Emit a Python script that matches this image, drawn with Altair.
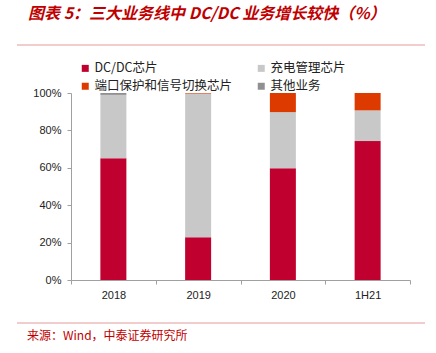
import altair as alt
import pandas as pd

categories = ["2018", "2019", "2020", "1H21"]
series = ["DC/DC芯片", "充电管理芯片", "端口保护和信号切换芯片", "其他业务"]
dcdc = [65.1, 22.8, 59.7, 74.3]
charge = [33.9, 76.9, 30.1, 16.4]
port = [0.0, 0.3, 10.2, 9.3]
other = [1.0, 0.0, 0.0, 0.0]
colors = ["#C0002F", "#C8C8C8", "#DD3A00", "#909090"]

rows = []
for si, (name, vals) in enumerate(zip(series, [dcdc, charge, port, other])):
    for c, v in zip(categories, vals):
        rows.append({"cat": c, "series": name, "value": v / 100.0, "ord": si})
df = pd.DataFrame(rows)

CJK = "Noto Sans CJK SC"
LAT = "Liberation Sans"

bars = alt.Chart(df).mark_bar(width=26).encode(
    x=alt.X("cat:N", sort=categories, title=None,
            scale=alt.Scale(paddingInner=0, paddingOuter=0),
            axis=alt.Axis(tickBand="extent", labelAngle=0, tickSize=4,
                          labelPadding=5, domainColor="#A0A0A0", tickColor="#A0A0A0",
                          labelFont=LAT, labelFontSize=11, labelColor="#222222")),
    y=alt.Y("value:Q", stack="zero", title=None,
            scale=alt.Scale(domain=[0, 1], nice=False),
            axis=alt.Axis(values=[0, 0.2, 0.4, 0.6, 0.8, 1.0], format=".0%", grid=False,
                          tickSize=4, labelPadding=6, domainColor="#A0A0A0", tickColor="#A0A0A0",
                          labelFont=LAT, labelFontSize=11, labelColor="#222222")),
    color=alt.Color("series:N", scale=alt.Scale(domain=series, range=colors),
                    legend=alt.Legend(title=None, orient="none", legendX=8, legendY=-31,
                                      direction="horizontal",
                                      columns=2, columnPadding=22, rowPadding=5,
                                      symbolType="square", symbolSize=49, symbolStrokeWidth=0,
                                      labelFont=CJK, labelFontSize=12.5, labelColor="#222222",
                                      labelOffset=3, padding=0)),
    order=alt.Order("ord:Q", sort="ascending"),
)

one = alt.Data(values=[{}])

title = alt.Chart(one).mark_text(
    text="图表 5：三大业务线中 DC/DC 业务增长较快（%）", font=CJK, fontSize=16,
    fontWeight="bold", fontStyle="italic", color="#C00000", align="left", baseline="middle"
).encode(x=alt.value(-43), y=alt.value(-79))

top_line = alt.Chart(one).mark_rule(color="#E39A9A", strokeWidth=1).encode(
    x=alt.value(-54), x2=alt.value(354), y=alt.value(-48))
bot_line = alt.Chart(one).mark_rule(color="#E39A9A", strokeWidth=1).encode(
    x=alt.value(-54), x2=alt.value(354), y=alt.value(230))

source = alt.Chart(one).mark_text(
    text="来源：Wind，中泰证券研究所", font=CJK, fontSize=12,
    color="#C00000", align="left", baseline="middle"
).encode(x=alt.value(-44), y=alt.value(243))

chart = alt.layer(bars, title, top_line, bot_line, source).properties(
    width=339, height=187,
    autosize=alt.AutoSizeParams(type="none"),
    padding={"left": 71, "top": 93, "right": 26, "bottom": 73},
).configure_view(stroke=None)

chart.save("out.html", embed_options={"renderer": "svg", "actions": False})
